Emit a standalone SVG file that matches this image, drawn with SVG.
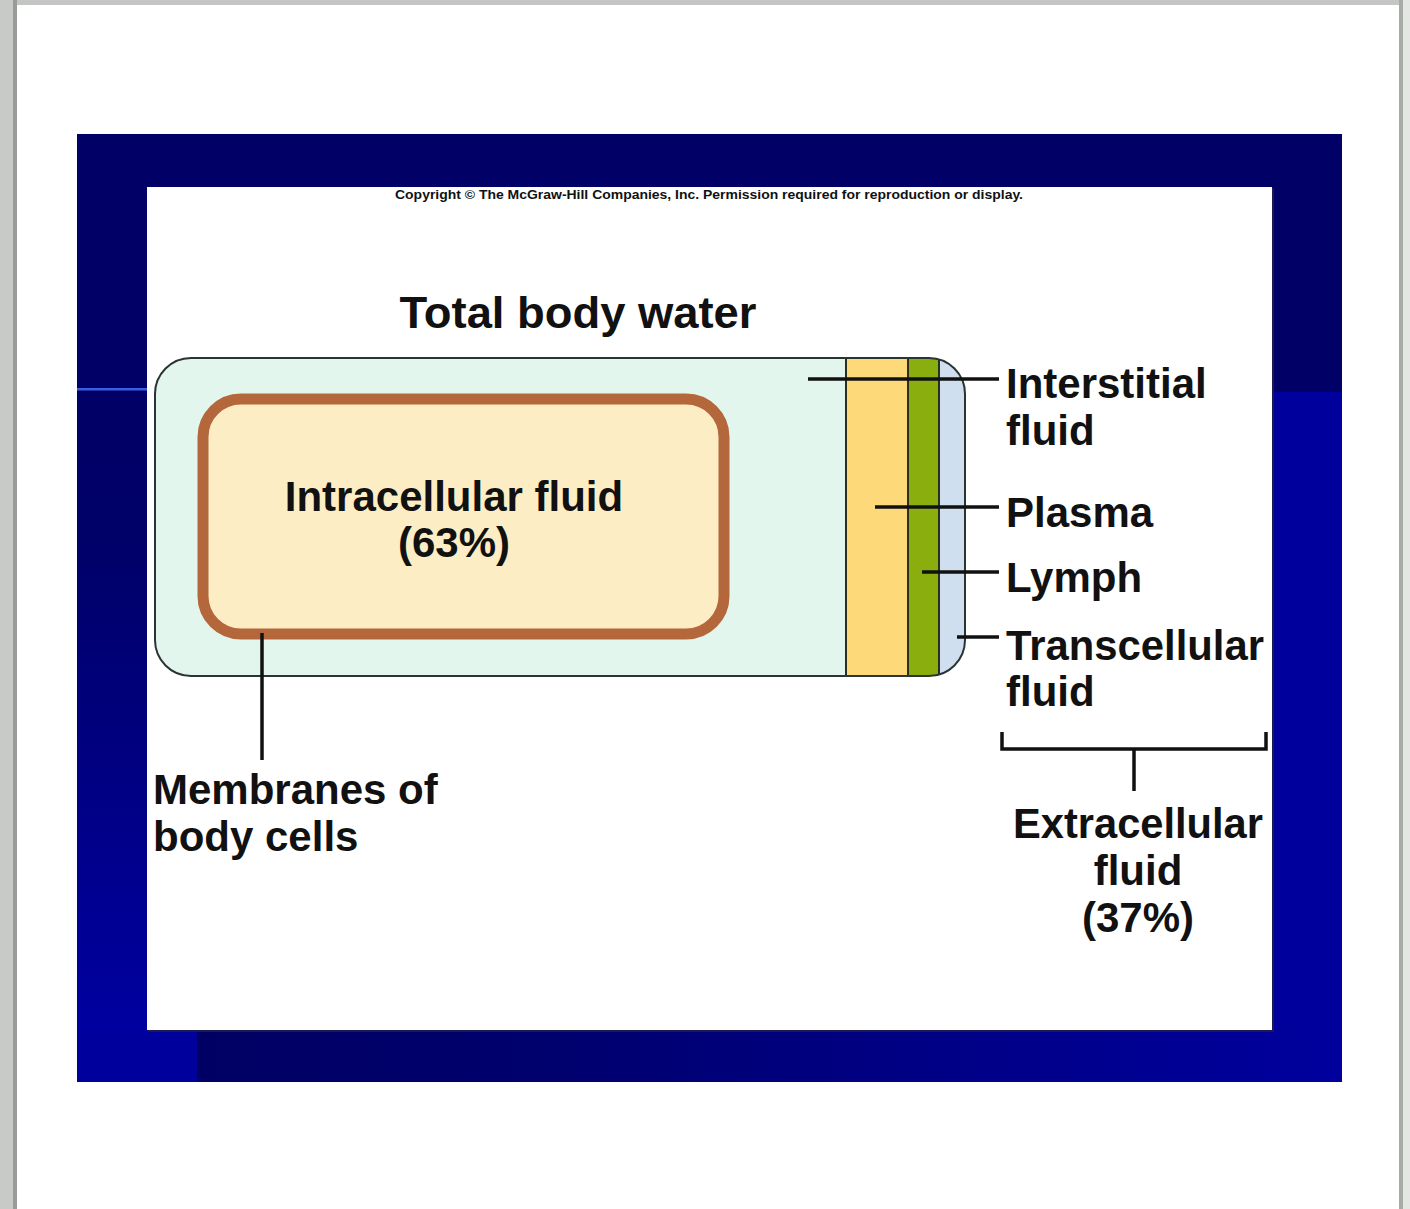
<svg xmlns="http://www.w3.org/2000/svg" width="1410" height="1209" viewBox="0 0 1410 1209">
<defs>
<style>
.t{font-family:"Liberation Sans",Arial,Helvetica,sans-serif;font-weight:bold;fill:#111;}
.lbl{font-size:42px;}
.ln{stroke:#111;stroke-width:3.5;fill:none;}
.band{stroke:#2b2f22;stroke-width:2;}
</style>
<linearGradient id="gLeft" x1="0" y1="0" x2="0" y2="1">
<stop offset="0" stop-color="#000066"/>
<stop offset="0.25" stop-color="#00006a"/>
<stop offset="1" stop-color="#0000a0"/>
</linearGradient>
<linearGradient id="gBottom" x1="0" y1="0" x2="1" y2="0">
<stop offset="0" stop-color="#000064"/>
<stop offset="0.3" stop-color="#00006e"/>
<stop offset="1" stop-color="#00009e"/>
</linearGradient>
<clipPath id="bodyClip">
<rect x="155" y="358" width="810" height="318" rx="36" ry="36"/>
</clipPath>
</defs>

<!-- page -->
<g id="page">
<rect x="0" y="0" width="1410" height="1209" fill="#ffffff"/>
<rect x="0" y="0" width="1410" height="5" fill="#c4c6c4"/>
<rect x="0" y="0" width="14" height="1209" fill="#c8cac8"/>
<rect x="13" y="0" width="4" height="1209" fill="#9a9c9a"/>
<rect x="1399" y="0" width="4" height="1209" fill="#a8aaa8"/>
<rect x="1403" y="0" width="7" height="1209" fill="#e4e6e4"/>
</g>

<!-- slide background -->
<g id="slide">
<rect x="77" y="134" width="1265" height="948" fill="#00009c"/>
<rect x="77" y="134" width="1265" height="258" fill="#000066"/>
<rect x="77" y="392" width="70" height="638" fill="url(#gLeft)"/>
<rect x="197" y="1030" width="1145" height="52" fill="url(#gBottom)"/>
<rect x="77" y="388" width="70" height="2.5" fill="#3a5ee0"/>
<rect x="148" y="188" width="1126" height="844" fill="#1a1a50"/>
<rect x="147" y="187" width="1125" height="843" fill="#ffffff"/>
</g>

<text class="t" x="709" y="199" font-size="12.5" text-anchor="middle" textLength="628" lengthAdjust="spacingAndGlyphs">Copyright © The McGraw-Hill Companies, Inc. Permission required for reproduction or display.</text>

<text class="t" x="578" y="328" font-size="44" text-anchor="middle" textLength="357" lengthAdjust="spacingAndGlyphs">Total body water</text>

<!-- total body water container -->
<g id="body-water">
<rect x="155" y="358" width="810" height="318" rx="36" ry="36" fill="#e3f6ee"/>
<g clip-path="url(#bodyClip)">
<rect class="band" x="846" y="350" width="62" height="335" fill="#fed97a"/>
<rect class="band" x="908" y="350" width="31" height="335" fill="#89ae0e"/>
<rect class="band" x="939" y="350" width="40" height="335" fill="#cfdff0"/>
</g>
<rect x="155" y="358" width="810" height="318" rx="36" ry="36" fill="none" stroke="#2a3434" stroke-width="2"/>
</g>

<!-- intracellular -->
<g id="intracellular">
<rect x="203" y="399" width="521" height="235" rx="38" ry="38" fill="#fdedc4" stroke="#b3673a" stroke-width="11"/>
<text class="t" x="454" y="511" font-size="42" text-anchor="middle">Intracellular fluid</text>
<text class="t" x="454" y="557" font-size="42" text-anchor="middle">(63%)</text>
</g>

<!-- connectors -->
<g id="connectors">
<line class="ln" x1="808" y1="379" x2="999" y2="379"/>
<line class="ln" x1="875" y1="507" x2="999" y2="507"/>
<line class="ln" x1="922" y1="572" x2="999" y2="572"/>
<line class="ln" x1="957" y1="637" x2="999" y2="637"/>
<line class="ln" x1="262" y1="633" x2="262" y2="760"/>
<path class="ln" d="M1002,732 V749 H1266 V732"/>
<line class="ln" x1="1134" y1="749" x2="1134" y2="791"/>
</g>

<g id="label-interstitial">
<text class="t lbl" x="1006" y="398">Interstitial</text>
<text class="t lbl" x="1006" y="445">fluid</text>
</g>
<g id="label-plasma">
<text class="t lbl" x="1006" y="527">Plasma</text>
</g>
<g id="label-lymph">
<text class="t lbl" x="1006" y="592">Lymph</text>
</g>
<g id="label-transcellular">
<text class="t lbl" x="1006" y="660" textLength="258" lengthAdjust="spacingAndGlyphs">Transcellular</text>
<text class="t lbl" x="1006" y="706">fluid</text>
</g>
<g id="label-membranes">
<text class="t lbl" x="153" y="804">Membranes of</text>
<text class="t lbl" x="153" y="851">body cells</text>
</g>
<g id="label-extracellular">
<text class="t lbl" x="1138" y="838" text-anchor="middle" textLength="250" lengthAdjust="spacingAndGlyphs">Extracellular</text>
<text class="t lbl" x="1138" y="885" text-anchor="middle">fluid</text>
<text class="t lbl" x="1138" y="932" text-anchor="middle">(37%)</text>
</g>
</svg>
